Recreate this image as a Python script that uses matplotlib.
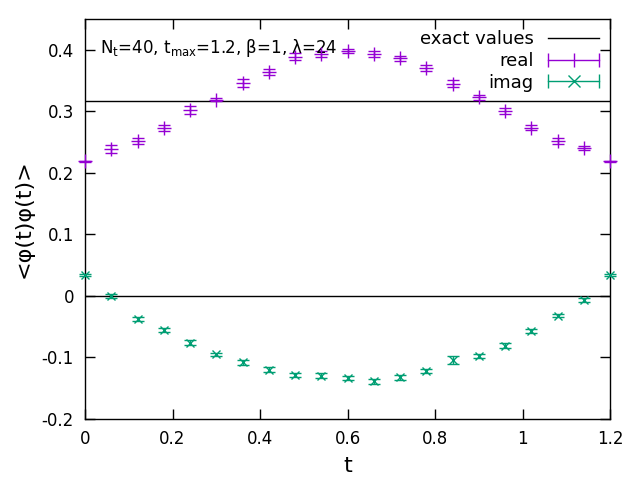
import matplotlib

matplotlib.use("Agg")
import matplotlib.pyplot as plt
from matplotlib.lines import Line2D
from matplotlib.legend_handler import HandlerLine2D, HandlerTuple

plt.rcParams["font.family"] = ["DejaVu Sans"]

# 数据：t 点、实部 / 虚部及误差、精确值
t = [0.00, 0.06, 0.12, 0.18, 0.24, 0.30, 0.36, 0.42, 0.48, 0.54, 0.60,
     0.66, 0.72, 0.78, 0.84, 0.90, 0.96, 1.02, 1.08, 1.14, 1.20]
real = [0.219, 0.239, 0.252, 0.273, 0.302, 0.319, 0.346, 0.364, 0.389, 0.393, 0.398,
        0.393, 0.386, 0.370, 0.345, 0.323, 0.300, 0.273, 0.252, 0.240, 0.219]
real_err = [0.001, 0.006, 0.005, 0.005, 0.006, 0.002, 0.006, 0.005, 0.006, 0.005, 0.004,
            0.005, 0.004, 0.005, 0.006, 0.004, 0.005, 0.004, 0.005, 0.003, 0.001]
imag = [0.034, 0.000, -0.037, -0.055, -0.076, -0.095, -0.108, -0.120, -0.128, -0.130, -0.133,
        -0.139, -0.132, -0.122, -0.104, -0.098, -0.081, -0.057, -0.032, -0.007, 0.034]
imag_err = [0.001, 0.003, 0.003, 0.003, 0.004, 0.003, 0.004, 0.004, 0.003, 0.004, 0.003,
            0.004, 0.004, 0.004, 0.006, 0.003, 0.004, 0.004, 0.003, 0.003, 0.001]
exact = [0.317, 0.0]

PURPLE = "#9400d3"
GREEN = "#009e73"

fig = plt.figure(figsize=(6.4, 4.8), dpi=100)
ax = fig.add_axes([85 / 640, 61 / 480, 525 / 640, 400 / 480])

for v in exact:
    ax.axhline(v, color="black", linewidth=1.0, zorder=1)

ax.errorbar(t, real, yerr=real_err, fmt="+", color=PURPLE, markersize=10,
            elinewidth=1.0, capsize=4, capthick=1.0, clip_on=False, zorder=3)
ax.errorbar(t, imag, yerr=imag_err, fmt="x", color=GREEN, markersize=6,
            elinewidth=1.0, capsize=4, capthick=1.0, clip_on=False, zorder=3)

ax.set_xlim(0, 1.2)
ax.set_ylim(-0.2, 0.45)
ax.set_xticks([0, 0.2, 0.4, 0.6, 0.8, 1.0, 1.2])
ax.set_xticklabels(["0", "0.2", "0.4", "0.6", "0.8", "1", "1.2"])
ax.set_yticks([-0.2, -0.1, 0, 0.1, 0.2, 0.3, 0.4])
ax.set_yticklabels(["-0.2", "-0.1", "0", "0.1", "0.2", "0.3", "0.4"])
ax.tick_params(direction="in", top=True, right=True, length=7, width=1,
               labelsize=12, pad=8)
for s in ax.spines.values():
    s.set_linewidth(1.0)

ax.set_xlabel("t", fontsize=16, labelpad=6)
ax.set_ylabel("<φ(t)φ(t)>", fontsize=16, labelpad=6)

ax.text(0.028, 0.955, r"N$_\mathregular{t}$=40, t$_\mathregular{max}$=1.2, β=1, λ=24",
        transform=ax.transAxes, fontsize=12, ha="left", va="top")

# gnuplot 风格图例：横向误差棒 + 中间标记
h_exact = Line2D([], [], color="black", linewidth=1.0)
real_bar = Line2D([], [], color=PURPLE, linewidth=1.0, marker="|", markersize=10)
real_mk = Line2D([], [], color=PURPLE, linestyle="none", marker="|", markersize=10)
imag_bar = Line2D([], [], color=GREEN, linewidth=1.0, marker="|", markersize=10)
imag_mk = Line2D([], [], color=GREEN, linestyle="none", marker="x", markersize=8)
leg = ax.legend(
    [h_exact, (real_bar, real_mk), (imag_bar, imag_mk)],
    ["exact values", "real", "imag"],
    loc="upper right", bbox_to_anchor=(1.02, 1.012), frameon=False,
    markerfirst=False, fontsize=13, numpoints=2, handlelength=3.4,
    handletextpad=0.5, labelspacing=0.2,
    handler_map={
        tuple: HandlerTuple(ndivide=1),
        real_mk: HandlerLine2D(numpoints=1),
        imag_mk: HandlerLine2D(numpoints=1),
    },
)
for txt in leg.get_texts():
    txt.set_ha("right")

fig.savefig("out.png", dpi=100)
